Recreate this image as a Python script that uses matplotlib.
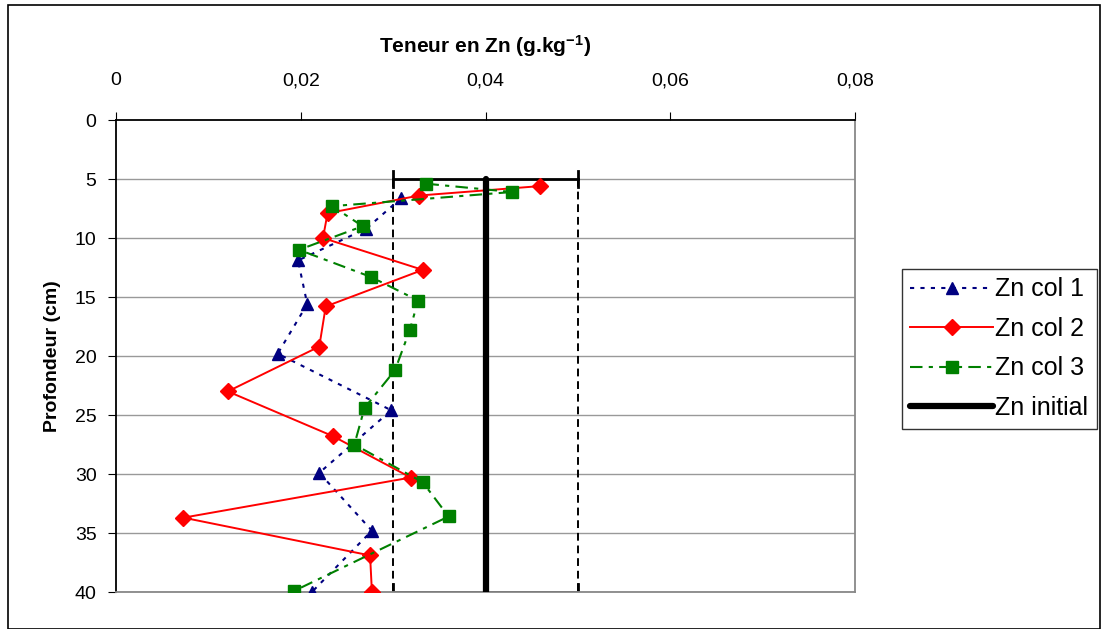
import matplotlib
matplotlib.use("Agg")
import matplotlib.pyplot as plt
from matplotlib.patches import Rectangle

plt.rcParams['font.family'] = ['Liberation Sans', 'DejaVu Sans']
plt.rcParams['mathtext.default'] = 'regular'

# Zn content (g/kg) vs depth (cm) for three columns
col1_depth = [6.6, 9.2, 11.9, 15.6, 19.8, 24.6, 29.9, 34.8, 40.0]
col1_zn = [0.0309, 0.0271, 0.0197, 0.0207, 0.0175, 0.0298, 0.0220, 0.0277, 0.0212]

col2_depth = [5.6, 6.4, 7.9, 10.0, 12.7, 15.8, 19.2, 23.0, 26.8, 30.3, 33.7, 36.9, 40.0]
col2_zn = [0.0459, 0.0328, 0.0229, 0.0224, 0.0332, 0.0227, 0.0220, 0.0121, 0.0235,
           0.0319, 0.0073, 0.0275, 0.0277]

col3_depth = [5.4, 6.1, 7.3, 9.0, 11.0, 13.3, 15.3, 17.8, 21.2, 24.4, 27.5, 30.7, 33.6, 39.9]
col3_zn = [0.0336, 0.0429, 0.0234, 0.0267, 0.0198, 0.0276, 0.0327, 0.0318, 0.0302,
           0.0269, 0.0258, 0.0332, 0.0360, 0.0193]

# initial Zn content with its range
init_depth = [5, 40]
init_zn = [0.04, 0.04]
init_low = 0.03
init_high = 0.05

x_ticks = [0, 0.02, 0.04, 0.06, 0.08]
x_labels = ["0", "0,02", "0,04", "0,06", "0,08"]
y_ticks = [0, 5, 10, 15, 20, 25, 30, 35, 40]

fig = plt.figure(figsize=(11.02, 6.29), dpi=100)
ax = fig.add_axes([0.1053, 0.0588, 0.6706, 0.7504])

# outer chart frame
fig.patches.append(Rectangle((0.007, 0.0), 0.991, 0.992, transform=fig.transFigure,
                             fill=False, edgecolor='black', linewidth=1.2))

for d in y_ticks[1:]:
    ax.axhline(d, color='#999999', linewidth=1.0, zorder=0)

ax.plot(col1_zn, col1_depth, color='#000080', linestyle=(0, (2, 3)), linewidth=1.5,
        marker='^', markersize=9, label='Zn col 1', zorder=3)
ax.plot(col2_zn, col2_depth, color='#FF0000', linestyle='-', linewidth=1.4,
        marker='D', markersize=8, label='Zn col 2', zorder=3)
ax.plot(col3_zn, col3_depth, color='#008000', linestyle=(0, (6, 3, 2, 3)), linewidth=1.5,
        marker='s', markersize=8, label='Zn col 3', zorder=3)

# range of initial content
for xv in (init_low, init_high):
    ax.plot([xv, xv], init_depth, color='black', linestyle=(0, (4, 2.5)), linewidth=1.4, zorder=2)
for d in init_depth:
    ax.plot([init_low, init_high], [d, d], color='black', linewidth=2, zorder=2)
    ax.plot([init_low, init_low], [d - 0.7, d + 0.7], color='black', linewidth=2, zorder=2)
    ax.plot([init_high, init_high], [d - 0.7, d + 0.7], color='black', linewidth=2, zorder=2)
ax.plot(init_zn, init_depth, color='black', linewidth=4.5, label='Zn initial', zorder=4,
        solid_capstyle='round')

ax.set_xlim(0, 0.08)
ax.set_ylim(40, 0)
ax.xaxis.tick_top()
ax.xaxis.set_label_position('top')
ax.set_xticks(x_ticks)
ax.set_xticklabels(x_labels)
ax.set_yticks(y_ticks)
ax.tick_params(axis='x', direction='out', length=6, pad=16, labelsize=14)
ax.tick_params(axis='y', direction='out', length=6, pad=8, labelsize=14)

ax.spines['top'].set_color('black')
ax.spines['left'].set_color('black')
ax.spines['right'].set_color('#888888')
ax.spines['bottom'].set_color('#888888')
for s in ax.spines.values():
    s.set_linewidth(1.3)

ax.set_xlabel("Teneur en Zn (g.kg$^{-1}$)", fontsize=15, fontweight='bold', labelpad=14)
ax.set_ylabel("Profondeur (cm)", fontsize=14, fontweight='bold', labelpad=10)

leg = ax.legend(loc='upper left', bbox_to_anchor=(1.063, 0.685), fontsize=18,
                frameon=True, fancybox=False, edgecolor='black', handlelength=3.3,
                handletextpad=0.1, borderpad=0.35, labelspacing=0.62, borderaxespad=0)
leg.get_frame().set_linewidth(1.0)

fig.savefig("out.png", dpi=100)
